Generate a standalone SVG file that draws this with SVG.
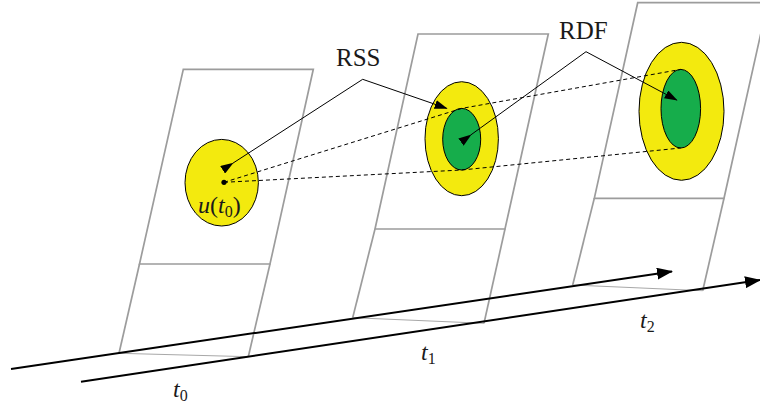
<svg xmlns="http://www.w3.org/2000/svg" width="760" height="410" viewBox="0 0 760 410">
<style>
.frame{fill:none;stroke:#9c9c9c;stroke-width:1.7;stroke-linejoin:miter}
.base{fill:none;stroke:#a8a8a8;stroke-width:1}
.axis{fill:none;stroke:#000;stroke-width:2}
.lead{fill:none;stroke:#000;stroke-width:1}
.dash{fill:none;stroke:#000;stroke-width:1;stroke-dasharray:4 3}
.yel{fill:#f3ea0e;stroke:#000;stroke-width:1}
.grn{fill:#16ad4b;stroke:#000;stroke-width:1}
.lbl{font-size:25px}
.it{font-style:italic;font-size:24px}
.sub{font-size:16px;font-style:normal}
</style>
<defs>
<marker id="ah" markerUnits="userSpaceOnUse" markerWidth="13" markerHeight="9" refX="12" refY="4.5" orient="auto"><path d="M0,0 L13,4.5 L0,9 z" fill="#000"/></marker>
<marker id="axh" markerUnits="userSpaceOnUse" markerWidth="16" markerHeight="12" refX="15" refY="6" orient="auto"><path d="M0,0 L16,6 L0,12 z" fill="#000"/></marker>
</defs>
<g id="panel0">
<polygon class="frame" points="183.3,69.3 313.3,69.3 270,264 139.5,264"/>
<polyline class="frame" points="139.5,264 119,353.3"/>
<polyline class="frame" points="270,264 248.3,356.7"/>
<line class="base" x1="119" y1="353.3" x2="248.3" y2="356.7"/>
<ellipse class="yel" cx="221.7" cy="182.7" rx="36.7" ry="43.3"/>
<circle cx="224" cy="182.3" r="2.6" fill="#000"/>
<text x="198" y="213" class="it" font-family="Liberation Serif, Times New Roman, serif" fill="#1a1a1a">u<tspan style="font-style:normal">(</tspan>t<tspan class="sub" dy="4">0</tspan><tspan style="font-style:normal" dy="-4">)</tspan></text>
</g>
<g id="panel1">
<polygon class="frame" points="418,34 548.3,34 505,229 375,229"/>
<polyline class="frame" points="375,229 352.7,317.7"/>
<polyline class="frame" points="505,229 484,323.3"/>
<line class="base" x1="352.7" y1="317.7" x2="484" y2="323.3"/>
<ellipse class="yel" cx="461.7" cy="138.7" rx="36.7" ry="57"/>
<ellipse class="grn" cx="461.7" cy="139.2" rx="19" ry="30.8"/>
</g>
<g id="panel2">
<polygon class="frame" points="637.7,2.7 767.7,2.7 724,198.3 594.3,198.3"/>
<polyline class="frame" points="594.3,198.3 572.7,285"/>
<polyline class="frame" points="724,198.3 702.7,290.7"/>
<line class="base" x1="572.7" y1="285" x2="702.7" y2="290.7"/>
<ellipse class="yel" cx="681.5" cy="111.3" rx="42.5" ry="69"/>
<ellipse class="grn" cx="680.8" cy="108.7" rx="19.8" ry="39.3"/>
</g>
<g id="connectors">
<line class="axis" x1="11" y1="369" x2="672" y2="271.5" marker-end="url(#axh)"/>
<line class="axis" x1="81" y1="381.7" x2="760" y2="280" marker-end="url(#axh)"/>
<polyline class="dash" points="224,182.3 461.7,108.4 680.8,69.4"/>
<polyline class="dash" points="224,182.3 461.7,170 680.8,148"/>
<polyline class="lead" points="232.7,163.3 362.7,79.3" marker-start="url(#ah)"/>
<polyline class="lead" points="362.7,79.3 446.7,108.3" marker-end="url(#ah)"/>
<polyline class="lead" points="470.7,135 586,51.7" marker-start="url(#ah)"/>
<polyline class="lead" points="586,51.7 676.7,100" marker-end="url(#ah)"/>
</g>
<g id="labels" font-family="Liberation Serif, Times New Roman, serif" fill="#1a1a1a">
<text x="336" y="66" class="lbl">RSS</text>
<text x="559" y="39" class="lbl">RDF</text>
<text x="173" y="397" class="it">t<tspan class="sub" dy="4">0</tspan></text>
<text x="421" y="360" class="it">t<tspan class="sub" dy="4">1</tspan></text>
<text x="640" y="328" class="it">t<tspan class="sub" dy="4">2</tspan></text>
</g>
</svg>
